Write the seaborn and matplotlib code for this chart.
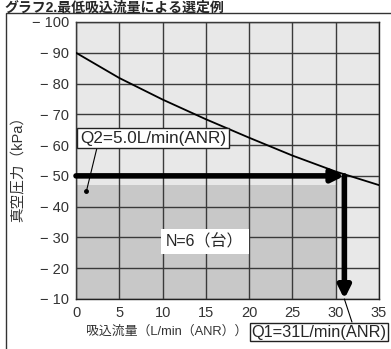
import numpy as np
import pandas as pd
import matplotlib
matplotlib.use('Agg')
import matplotlib.pyplot as plt
from matplotlib.patches import Rectangle
import seaborn as sns

# Datos de la curva (caudal vs presion de vacio)
flow = [0, 5, 10, 15, 20, 25, 30, 35]
vacuum = [-90, -81.8, -74.8, -68.4, -62.4, -56.6, -51.4, -47.0]

x_ticks = [0, 5, 10, 15, 20, 25, 30, 35]
y_ticks = [-100, -90, -80, -70, -60, -50, -40, -30, -20, -10]
y_tick_labels = ['− 100', '− 90', '− 80', '− 70', '− 60', '− 50', '− 40', '− 30', '− 20', '− 10']

# Region sombreada y punto de seleccion
shade_x = [0, 30]
shade_top = -47
q2_point = (1.2, -45)
select_y = -50
select_x = 31

title = 'グラフ2.最低吸込流量による選定例'
xlabel = '吸込流量（L/min（ANR））'
ylabel = '真空圧力（kPa）'
q2_text = 'Q2=5.0L/min(ANR)'
q1_text = 'Q1=31L/min(ANR)'
n_text = 'N=6（台）'

sns.set_style('white')
fams = ['Liberation Sans', 'Noto Sans CJK JP', 'DejaVu Sans']
plt.rcParams['font.family'] = fams

fig = plt.figure(figsize=(3.91, 3.49), dpi=100)
ax = fig.add_axes([0.1944, 0.1433, 0.7749, 0.7937])

ax.set_facecolor('#e8e8e8')
ax.fill_between(shade_x, [shade_top, shade_top], [-10, -10], color='#c8c8c8', zorder=1, lw=0)

df = pd.DataFrame({'flow': flow, 'vacuum': vacuum})
sns.lineplot(data=df, x='flow', y='vacuum', color='black', lw=1.3, ax=ax, zorder=4)

ax.set_xlim(0, 35)
ax.set_ylim(-10, -100)
ax.set_xticks(x_ticks)
ax.set_yticks(y_ticks)
ax.set_yticklabels(y_tick_labels)
ax.grid(True, color='#3a3a3a', lw=1.0, zorder=2)
ax.set_axisbelow(False)
for s in ax.spines.values():
    s.set_color('#222222')
    s.set_linewidth(1.0)
ax.tick_params(length=0, labelsize=10.5, colors='#333333', pad=5)
ax.set_xlabel('')
ax.set_ylabel('')

# Flechas gruesas
ax.annotate('', xy=(select_x, select_y), xytext=(0, select_y),
            arrowprops=dict(arrowstyle='-|>', lw=4, color='black',
                            mutation_scale=18, shrinkA=0, shrinkB=0), zorder=6)
ax.annotate('', xy=(select_x, -10), xytext=(select_x, select_y),
            arrowprops=dict(arrowstyle='-|>', lw=4, color='black',
                            mutation_scale=18, shrinkA=0, shrinkB=0), zorder=6)

# Etiquetas
ax.annotate(q2_text, xy=q2_point, xytext=(0.45, -62.2), fontsize=12.3,
            ha='left', va='center',
            bbox=dict(boxstyle='square,pad=0.15', fc='white', ec='#222222', lw=1),
            arrowprops=dict(arrowstyle='-', lw=0.8, color='black', shrinkA=0, shrinkB=0,
                            relpos=(0.12, 0)), zorder=7)
ax.plot(*q2_point, 'o', color='black', ms=2.5, zorder=7)

ax.text(14.9, -28.6, n_text, fontsize=11.5, ha='center', va='center',
        bbox=dict(boxstyle='square,pad=0.3', fc='white', ec='none'), zorder=7)

ax.annotate(q1_text, xy=(select_x, -10), xycoords='data',
            xytext=(319 / 391, 1 - 332 / 349), textcoords='figure fraction',
            fontsize=11.8, ha='center', va='center',
            bbox=dict(boxstyle='square,pad=0.12', fc='white', ec='#222222', lw=1),
            arrowprops=dict(arrowstyle='-', lw=0.8, color='black', shrinkA=0, shrinkB=0,
                            relpos=(0.75, 1)), annotation_clip=False, zorder=7)

fig.text(86 / 391, 1 - 332 / 349, xlabel, fontsize=9.3, color='#333333', ha='left', va='center')
fig.text(18 / 391, 1 - 166 / 349, ylabel, fontsize=10.5, color='#333333', rotation=90,
         ha='center', va='center')
fig.text(4 / 391, 1 - 0.5 / 349, title, fontsize=10, fontweight='bold', ha='left', va='top')

# Marco exterior
fig.patches.append(Rectangle((6 / 391, -0.05), 1.2, 1 - 13 / 349 + 0.05, transform=fig.transFigure,
                             fill=False, ec='#333333', lw=1))

fig.savefig('out.png', dpi=100)
